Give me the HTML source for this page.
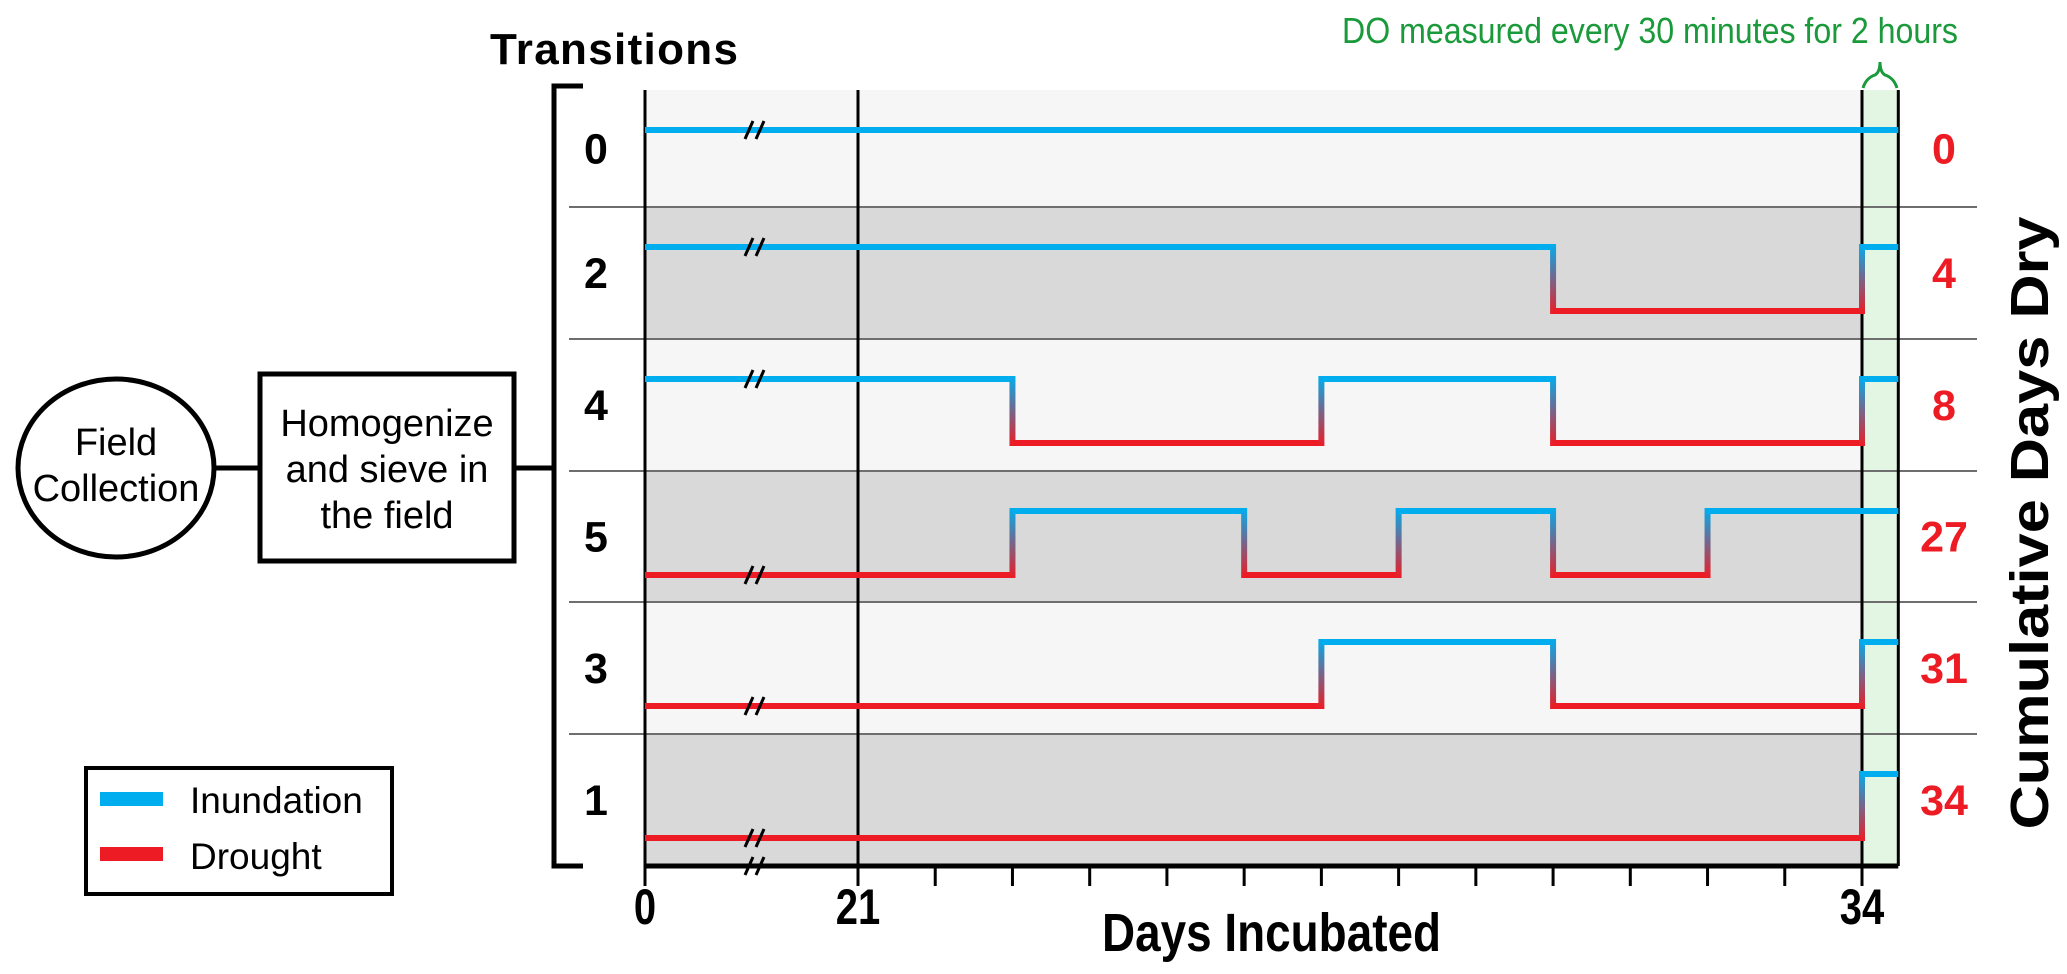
<!DOCTYPE html>
<html><head><meta charset="utf-8"><style>
html,body{margin:0;padding:0;background:#fff}
svg{display:block;font-family:"Liberation Sans",Arial,sans-serif}
</style></head><body>
<svg id="chart" width="2067" height="974" viewBox="0 0 2067 974">
<defs>
<linearGradient id="gDown" x1="0" y1="0" x2="0" y2="1"><stop offset="0" stop-color="#00aeef"/><stop offset="1" stop-color="#ed1c24"/></linearGradient>
</defs>
</svg>
<script>
// ---- data ----
const transitions = [0, 2, 4, 5, 3, 1];
const cumulativeDaysDry = [0, 4, 8, 27, 31, 34];
const startStates = ['I', 'I', 'I', 'D', 'D', 'D'];
const switchDays = [[], [30, 34], [23, 27, 30, 34], [23, 26, 28, 30, 32], [27, 30, 34], [34]];
const tickLabels = ['0', '21', '34'];
const tickLabelDays = [0, 21, 34];
const tickDays = [21, 22, 23, 24, 25, 26, 27, 28, 29, 30, 31, 32, 33, 34];
const endDay = 34.47;

const NS = 'http://www.w3.org/2000/svg';
const svg = document.getElementById('chart');
function mk(tag, attrs, parent) {
  const e = document.createElementNS(NS, tag);
  for (const k in attrs) e.setAttribute(k, attrs[k]);
  (parent || svg).appendChild(e);
  return e;
}
const X0 = 645, X21 = 858, X34 = 1862;
function xScale(d) {
  if (d <= 21) return X0 + d / 21 * (X21 - X0);
  return X21 + (d - 21) * (X34 - X21) / 13;
}
const rowTops = [90, 207, 339, 471, 602, 734, 866];
function rowTop(i) { return rowTops[i]; }
function levelY(i, s) { return s === 'I' ? rowTop(i) + 40 : rowTop(i) + 104; }
const BLUE = '#00aeef', RED = '#ed1c24';
const xEnd = xScale(endDay);

transitions.forEach((t, i) => {
  const r = mk('rect', {x: X0, y: rowTop(i), width: xEnd - X0, height: rowTop(i + 1) - rowTop(i), fill: i % 2 ? '#d9d9d9' : '#f6f6f6'});
  
  
});
const gw = mk('rect', {x: X34, y: 90, width: xEnd - X34, height: 776, fill: '#e3f5e3'});


for (let i = 1; i < 6; i++) {
  const l = mk('line', {x1: 569, x2: 1977, y1: rowTop(i), y2: rowTop(i), stroke: '#6e6e6e', 'stroke-width': 2});
  
  
}
[[X0, 886], [X21, 886], [X34, 886], [xEnd, 866]].forEach(v => {
  const l = mk('line', {x1: v[0], x2: v[0], y1: 90, y2: v[1], stroke: '#000', 'stroke-width': 3});
  
  
});
transitions.forEach((t, i) => {
  const g = mk('g', {});
  
  
  let state = startStates[i];
  let d0 = 0;
  const days = switchDays[i].concat([endDay]);
  days.forEach((d, k) => {
    const y = levelY(i, state);
    mk('line', {x1: xScale(d0), x2: xScale(d), y1: y, y2: y, stroke: state === 'I' ? BLUE : RED, 'stroke-width': 6}, g);
    if (k < days.length - 1) {
      const yt = levelY(i, 'I'), yb = levelY(i, 'D');
      mk('rect', {x: xScale(d) - 3, y: yt - 3, width: 6, height: yb - yt + 6, fill: 'url(#gDown)'}, g);
      state = state === 'I' ? 'D' : 'I';
    }
    d0 = d;
  });
  const by = levelY(i, startStates[i]);
  [0, 11].forEach(o => mk('line', {x1: 745 + o, y1: by + 9, x2: 753 + o, y2: by - 9, stroke: '#000', 'stroke-width': 3}, g));
});
const ax = mk('line', {x1: X0, x2: xEnd, y1: 866, y2: 866, stroke: '#000', 'stroke-width': 5});


tickDays.forEach(d => {
  const t = mk('line', {x1: xScale(d), x2: xScale(d), y1: 866, y2: 886, stroke: '#000', 'stroke-width': 3});
  
  
});
[0, 11].forEach(o => mk('line', {x1: 745 + o, y1: 875, x2: 753 + o, y2: 857, stroke: '#000', 'stroke-width': 3}));
tickLabelDays.forEach((d, k) => {
  const t = mk('text', {transform: 'translate(' + xScale(d) + ',924) scale(0.8,1)', 'text-anchor': 'middle', 'font-size': 50, 'font-weight': 'bold'});
  t.textContent = tickLabels[k];
  
  
});
transitions.forEach((t, i) => {
  const cy = (rowTop(i) + rowTop(i + 1)) / 2 + 15;
  const a = mk('text', {x: 596, y: cy, 'text-anchor': 'middle', 'font-size': 43, 'font-weight': 'bold'});
  a.textContent = t;
  
  
  const b = mk('text', {x: 1944, y: cy, 'text-anchor': 'middle', 'font-size': 43, 'font-weight': 'bold', fill: '#ed1c24'});
  b.textContent = cumulativeDaysDry[i];
  
  
});
</script>
<svg width="2067" height="974" style="position:absolute;left:0;top:0">
<text x="490" y="64" font-size="44" font-weight="bold" textLength="248">Transitions</text>
<text x="1342" y="43" font-size="36" fill="#1a9a3a" textLength="616" lengthAdjust="spacingAndGlyphs">DO measured every 30 minutes for 2 hours</text>
<path d="M1863 88 Q1866 78 1875 75 Q1880 72 1880 62 Q1880 72 1885 75 Q1894 78 1897 88" fill="none" stroke="#1a9a3a" stroke-width="3"/>
<path d="M583 86 H554 V866 H583" fill="none" stroke="#000" stroke-width="5"/>
<line x1="515" y1="468" x2="554" y2="468" stroke="#000" stroke-width="5"/>
<line x1="204" y1="468" x2="260" y2="468" stroke="#000" stroke-width="5"/>
<ellipse cx="116" cy="468" rx="98" ry="89" fill="#fff" stroke="#000" stroke-width="5"/>
<text x="116" y="455" font-size="38" text-anchor="middle">Field</text>
<text x="116" y="501" font-size="38" text-anchor="middle">Collection</text>
<rect x="260" y="374" width="254" height="187" fill="#fff" stroke="#000" stroke-width="5"/>
<text x="387" y="436" font-size="38" text-anchor="middle">Homogenize</text>
<text x="387" y="482" font-size="38" text-anchor="middle">and sieve in</text>
<text x="387" y="528" font-size="38" text-anchor="middle">the field</text>
<g>
<rect x="86" y="768" width="306" height="126" fill="#fff" stroke="#000" stroke-width="4"/>
<rect x="100" y="792" width="63" height="14" fill="#00aeef"/>
<text x="190" y="813" font-size="37">Inundation</text>
<rect x="100" y="847" width="63" height="14" fill="#ed1c24"/>
<text x="190" y="869" font-size="37">Drought</text>
</g>
<text x="1102" y="951" font-size="54" font-weight="bold" textLength="339" lengthAdjust="spacingAndGlyphs">Days Incubated</text>
<text transform="translate(2048,523) rotate(-90)" font-size="54" font-weight="bold" text-anchor="middle" textLength="613" lengthAdjust="spacingAndGlyphs">Cumulative Days Dry</text>
</svg>
</body></html>
